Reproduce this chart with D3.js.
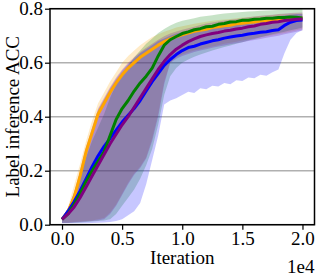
<!DOCTYPE html>
<html>
<head>
<meta charset="utf-8">
<script src="https://cdn.jsdelivr.net/npm/d3@7"></script>
<style>
  body { margin: 0; background: #fff; }
  .grid line { stroke: #b0b0b0; stroke-width: 1.5; }
  .axis path { display: none; }
  .axis line { stroke: #000; stroke-width: 1.2; }
</style>
</head>
<body>
<svg id="chart"></svg>
<script>
const FONT = '"Liberation Serif"';

// iteration grid
const iters = [0, 500, 1000, 1500, 2000, 2500, 3000, 3500, 4000, 4500, 5000, 5500, 6000, 6500, 7000, 7500,
  8000, 8500, 9000, 9500, 10000, 10500, 11000, 11500, 12000, 12500, 13000, 13500, 14000, 14500, 15000,
  15500, 16000, 16500, 17000, 17500, 18000, 18500, 19000, 19500, 20000];

const orangeMean = [0.02,0.05,0.10,0.18,0.27,0.34,0.41,0.45,0.49,0.525,0.555,0.58,0.60,0.62,0.635,0.65,0.665,0.678,0.688,0.697,0.703,0.71,0.716,0.72,0.724,0.73,0.733,0.737,0.739,0.744,0.746,0.749,0.751,0.754,0.755,0.758,0.759,0.762,0.762,0.765,0.765];
const orangeHi = [0.02,0.065,0.145,0.225,0.31,0.385,0.45,0.49,0.53,0.565,0.60,0.625,0.645,0.665,0.68,0.695,0.705,0.715,0.722,0.73,0.735,0.74,0.744,0.748,0.752,0.755,0.758,0.76,0.762,0.765,0.767,0.769,0.771,0.773,0.775,0.777,0.779,0.78,0.781,0.782,0.782];
const orangeLo = [0.008,0.008,0.01,0.012,0.014,0.016,0.02,0.025,0.045,0.075,0.115,0.155,0.19,0.215,0.25,0.32,0.41,0.53,0.6,0.62,0.63,0.638,0.645,0.65,0.655,0.66,0.665,0.67,0.674,0.678,0.682,0.686,0.69,0.694,0.698,0.702,0.706,0.71,0.715,0.72,0.725];

const greenMean = [0.02,0.04,0.075,0.115,0.16,0.20,0.235,0.27,0.33,0.39,0.43,0.46,0.495,0.525,0.55,0.58,0.625,0.665,0.685,0.697,0.708,0.714,0.722,0.726,0.733,0.735,0.742,0.745,0.751,0.752,0.757,0.757,0.761,0.762,0.765,0.765,0.767,0.767,0.769,0.768,0.766];
const greenHi = [0.025,0.06,0.12,0.18,0.25,0.31,0.36,0.41,0.47,0.52,0.56,0.59,0.62,0.645,0.67,0.69,0.71,0.725,0.738,0.748,0.755,0.76,0.765,0.77,0.773,0.776,0.779,0.782,0.784,0.786,0.788,0.79,0.791,0.792,0.793,0.794,0.795,0.796,0.797,0.798,0.798];
const greenLo = [0.006,0.006,0.007,0.008,0.01,0.012,0.014,0.016,0.02,0.04,0.07,0.1,0.13,0.17,0.22,0.28,0.37,0.48,0.55,0.58,0.6,0.612,0.622,0.63,0.638,0.645,0.652,0.658,0.664,0.67,0.676,0.682,0.688,0.694,0.7,0.705,0.71,0.715,0.72,0.725,0.73];

const purpleMean = [0.02,0.04,0.065,0.10,0.14,0.18,0.22,0.26,0.30,0.335,0.37,0.40,0.435,0.47,0.505,0.54,0.575,0.605,0.63,0.65,0.665,0.678,0.688,0.697,0.703,0.708,0.712,0.717,0.72,0.725,0.728,0.733,0.736,0.742,0.745,0.75,0.752,0.756,0.758,0.761,0.762];
const purpleHi = [0.025,0.06,0.12,0.2,0.29,0.36,0.43,0.47,0.51,0.545,0.575,0.6,0.62,0.64,0.655,0.67,0.685,0.698,0.708,0.716,0.722,0.728,0.733,0.74,0.745,0.749,0.753,0.756,0.759,0.762,0.765,0.768,0.771,0.774,0.776,0.778,0.78,0.782,0.784,0.785,0.786];
const purpleLo = [0.006,0.006,0.008,0.01,0.012,0.014,0.016,0.02,0.04,0.07,0.11,0.15,0.185,0.21,0.245,0.31,0.4,0.52,0.6,0.615,0.625,0.632,0.64,0.645,0.65,0.655,0.66,0.664,0.668,0.672,0.676,0.68,0.684,0.688,0.692,0.696,0.7,0.705,0.71,0.715,0.72];

const blueMean = [0.02,0.05,0.085,0.125,0.17,0.215,0.255,0.29,0.32,0.35,0.38,0.405,0.43,0.46,0.495,0.53,0.56,0.59,0.612,0.63,0.645,0.656,0.661,0.669,0.675,0.681,0.685,0.691,0.695,0.699,0.702,0.706,0.709,0.713,0.715,0.719,0.722,0.738,0.75,0.756,0.758];
const blueHi = [0.025,0.06,0.115,0.195,0.285,0.355,0.425,0.465,0.505,0.54,0.57,0.595,0.615,0.635,0.65,0.665,0.68,0.69,0.7,0.708,0.714,0.72,0.725,0.73,0.734,0.738,0.742,0.745,0.748,0.751,0.754,0.757,0.76,0.763,0.766,0.769,0.772,0.775,0.778,0.78,0.78];
const blueLo = [0.005,0.005,0.005,0.005,0.005,0.006,0.007,0.008,0.01,0.014,0.02,0.035,0.05,0.08,0.15,0.24,0.33,0.445,0.46,0.468,0.48,0.492,0.488,0.505,0.502,0.515,0.512,0.525,0.52,0.535,0.532,0.545,0.542,0.555,0.552,0.565,0.575,0.635,0.685,0.71,0.72];

// band drawing order (bottom to top)
const bandOrder = ['orange', 'green', 'purple', 'blue'];
// line drawing order (bottom to top)
const lineOrder = ['orange', 'blue', 'green', 'purple'];

const series = {
  orange: { color: 'orange', mean: orangeMean, lo: orangeLo, hi: orangeHi },
  green: { color: 'green', mean: greenMean, lo: greenLo, hi: greenHi },
  purple: { color: 'purple', mean: purpleMean, lo: purpleLo, hi: purpleHi },
  blue: { color: 'blue', mean: blueMean, lo: blueLo, hi: blueHi }
};

const xTicks = [0, 5000, 10000, 15000, 20000];
const yTicks = [0.0, 0.2, 0.4, 0.6, 0.8];

const width = 318, height = 276;
const margin = { top: 8.7, bottom: 51.3, left: 50, right: 3.5 };

const svg = d3.select('#chart')
  .attr('width', width)
  .attr('height', height);

const x = d3.scaleLinear()
  .domain([-1000, 21000])
  .range([margin.left, width - margin.right]);

const y = d3.scaleLinear()
  .domain([0, 0.8])
  .range([height - margin.bottom, margin.top]);

svg.append('clipPath').attr('id', 'clip')
  .append('rect')
  .attr('x', x.range()[0]).attr('y', y.range()[1])
  .attr('width', x.range()[1] - x.range()[0])
  .attr('height', y.range()[0] - y.range()[1]);

// horizontal grid
svg.append('g')
  .attr('class', 'grid')
  .selectAll('line')
  .data(yTicks)
  .enter()
  .append('line')
    .attr('x1', x.range()[0])
    .attr('x2', x.range()[1])
    .attr('y1', d => y(d))
    .attr('y2', d => y(d));

const plot = svg.append('g').attr('clip-path', 'url(#clip)');

// bands
const area = d3.area()
  .x(d => x(d.it))
  .y0(d => y(d.lo))
  .y1(d => y(d.hi));

bandOrder.forEach(k => {
  const s = series[k];
  const pts = iters.map((it, i) => ({ it: it, lo: s.lo[i], hi: s.hi[i] }));
  plot.append('path')
    .datum(pts)
    .attr('d', area)
    .attr('fill', s.color)
    .attr('fill-opacity', 0.22)
    .attr('stroke', 'none');
});

// mean lines
const line = d3.line()
  .x(d => x(d.it))
  .y(d => y(d.v));

lineOrder.forEach(k => {
  const s = series[k];
  const pts = iters.map((it, i) => ({ it: it, v: s.mean[i] }));
  plot.append('path')
    .datum(pts)
    .attr('d', line)
    .attr('fill', 'none')
    .attr('stroke', s.color)
    .attr('stroke-width', 3)
    .attr('stroke-linejoin', 'round');
});

// frame
svg.append('rect')
  .attr('x', x.range()[0])
  .attr('y', y.range()[1])
  .attr('width', x.range()[1] - x.range()[0])
  .attr('height', y.range()[0] - y.range()[1])
  .attr('fill', 'none')
  .attr('stroke', '#000')
  .attr('stroke-width', 1.5);

// axes
const xAxis = d3.axisBottom(x)
  .tickValues(xTicks)
  .tickSize(5)
  .tickPadding(2)
  .tickFormat(d => (d / 10000).toFixed(1));

svg.append('g')
  .attr('class', 'axis x-axis')
  .attr('transform', `translate(0,${y.range()[0]})`)
  .call(xAxis)
  .selectAll('text')
    .style('font-family', FONT)
    .style('font-size', '19px')
    .style('fill', '#000');

const yAxis = d3.axisLeft(y)
  .tickValues(yTicks)
  .tickSize(5)
  .tickPadding(2)
  .tickFormat(d3.format('.1f'));

svg.append('g')
  .attr('class', 'axis y-axis')
  .attr('transform', `translate(${x.range()[0]},0)`)
  .call(yAxis)
  .selectAll('text')
    .style('font-family', FONT)
    .style('font-size', '19px')
    .style('fill', '#000');

// labels
svg.append('text')
  .attr('x', (x.range()[0] + x.range()[1]) / 2)
  .attr('y', 264)
  .style('text-anchor', 'middle')
  .style('font-family', FONT)
  .style('font-size', '19px')
  .text('Iteration');

svg.append('text')
  .attr('x', x.range()[1])
  .attr('y', 273)
  .style('text-anchor', 'end')
  .style('font-family', FONT)
  .style('font-size', '19px')
  .text('1e4');

svg.append('text')
  .attr('transform', `translate(19,${(y.range()[0] + y.range()[1]) / 2}) rotate(-90)`)
  .style('text-anchor', 'middle')
  .style('font-family', FONT)
  .style('font-size', '19px')
  .text('Label inference ACC');
</script>
</body>
</html>
